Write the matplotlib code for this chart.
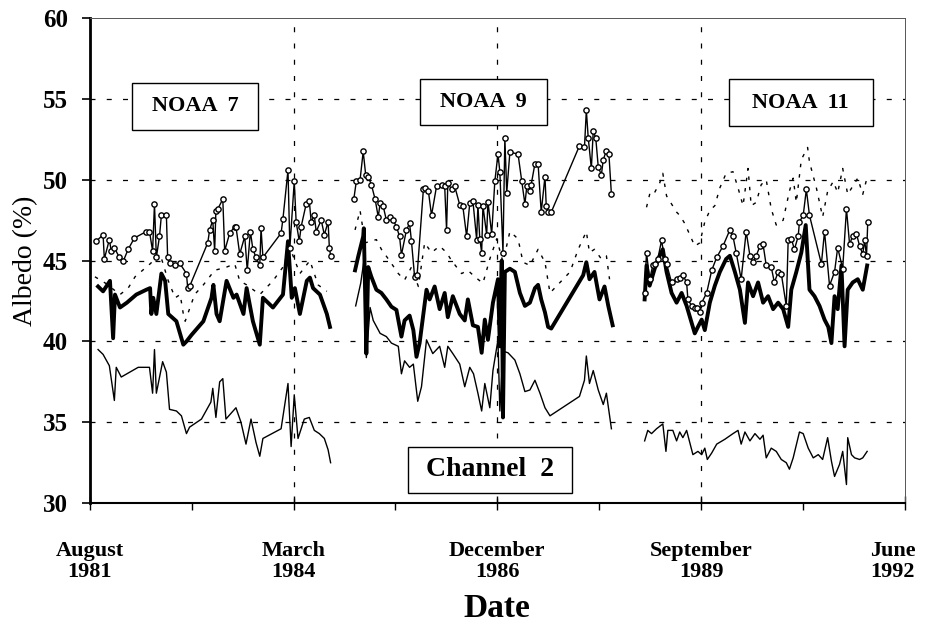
import matplotlib
matplotlib.use("Agg")
import matplotlib.pyplot as plt
import matplotlib.transforms as mtransforms
from matplotlib.patches import Rectangle

# x values: months since August 1981
# ---------------- NOAA 7 ----------------
n7_top_x = [1.0, 2.1, 2.3, 3.1, 3.4, 3.9, 4.7, 5.3, 6.1, 7.1, 9.0, 9.5, 10.0, 10.3, 10.6, 11.1, 11.4, 12.2,
            12.4, 12.7, 13.5, 14.3, 15.4, 15.6, 15.9, 18.8, 19.1, 19.6, 19.9, 20.1, 20.4, 21.2, 21.5, 22.3,
            23.1, 23.3, 23.9, 24.7, 25.1, 25.6, 26.0, 26.5, 27.1, 27.3, 27.6, 30.5, 30.8, 31.6, 31.9, 32.6,
            32.9, 33.4, 33.7, 34.5, 35.0, 35.3, 35.8, 36.1, 36.9, 37.4, 38.0, 38.2, 38.4]
n7_top_y = [46.2, 46.6, 45.1, 46.3, 45.6, 45.8, 45.2, 44.95, 45.7, 46.4, 46.8, 46.8, 45.6, 48.5, 45.2, 46.5, 47.8, 47.8,
            45.2, 44.85, 44.75, 44.85, 44.2, 43.3, 43.4, 46.1, 46.9, 47.5, 45.6, 48.1, 48.2, 48.8, 45.6, 46.7,
            47.1, 47.1, 45.4, 46.5, 44.4, 46.8, 45.7, 45.2, 44.7, 47.0, 45.2, 46.7, 47.6, 50.6, 45.8, 49.9,
            47.4, 46.2, 47.1, 48.5, 48.7, 47.4, 47.8, 46.8, 47.5, 46.6, 47.4, 45.8, 45.3]
n7_dash_x = [0.8, 2.5, 4.8, 6.1, 7.2, 9.6, 11.2, 12.5, 13.6, 14.4, 14.9, 15.2, 16.7, 18.1, 19.9, 21.8, 23.1,
             23.9, 25.0, 27.1, 29.2, 30.8, 31.9, 33.5, 35.1, 36.4, 37.8]
n7_dash_y = [44.0, 43.6, 42.9, 43.3, 44.0, 44.8, 45.4, 43.75, 42.7, 42.9, 41.7, 41.25, 42.9, 43.5, 44.4, 44.6, 44.8,
             43.75, 43.5, 42.9, 43.75, 44.6, 45.8, 44.2, 45.0, 43.5, 43.1]
n7_thick_x = [1.3, 2.1, 3.2, 3.7, 4.0, 4.8, 5.9, 7.4, 9.0, 9.6, 9.8, 10.1, 10.6, 11.4, 12.0, 12.5, 13.8, 14.9,
              15.4, 16.2, 18.1, 19.4, 19.7, 20.2, 20.7, 21.8, 22.9, 23.4, 24.5, 25.0, 26.0, 27.1, 27.6, 29.2,
              30.8, 31.6, 32.2, 32.7, 33.5, 34.6, 35.1, 35.6, 36.7, 37.8, 38.3]
n7_thick_y = [43.4, 43.1, 43.75, 40.2, 42.9, 42.1, 42.4, 42.9, 43.2, 43.3, 41.7, 42.7, 41.7, 44.2, 43.75, 41.7, 41.25, 39.8,
              40.0, 40.4, 41.25, 42.7, 43.5, 41.7, 41.25, 43.75, 42.7, 42.9, 41.7, 43.3, 41.25, 39.8, 42.7, 42.1,
              42.9, 46.2, 42.7, 43.3, 41.7, 43.75, 43.95, 43.3, 42.9, 41.7, 40.9]
n7_thin_x = [1.3, 2.1, 2.6, 3.1, 3.9, 4.2, 5.0, 7.7, 9.5, 10.0, 10.3, 10.6, 11.6, 12.2, 12.7, 13.8, 14.6, 15.4,
             15.9, 17.8, 19.3, 19.6, 20.1, 20.7, 21.2, 21.7, 23.3, 24.1, 24.9, 25.7, 26.5, 27.1, 27.6, 30.5,
             31.6, 32.1, 32.6, 33.2, 34.2, 35.0, 35.8, 36.6, 37.4, 38.0, 38.4]
n7_thin_y = [39.5, 39.2, 38.85, 38.5, 36.35, 38.4, 37.8, 38.4, 38.4, 36.8, 39.5, 36.8, 38.75, 38.1, 35.8, 35.7, 35.4, 34.3,
             34.7, 35.2, 36.25, 37.1, 35.3, 37.5, 37.7, 35.2, 35.9, 35.0, 33.65, 35.2, 33.75, 32.9, 34.0, 34.6,
             37.4, 33.5, 36.7, 34.0, 35.2, 35.3, 34.5, 34.3, 34.0, 33.3, 32.5]

# ---------------- NOAA 9 ----------------
n9_top_x = [42.1, 42.5, 43.1, 43.6, 44.0, 44.4, 44.9, 45.5, 46.0, 46.3, 46.8, 47.3, 47.8, 48.4, 48.9, 49.4, 49.7,
            50.5, 51.0, 51.3, 51.8, 52.2, 53.2, 53.4, 54.0, 54.5, 55.3, 56.1, 56.6, 56.9, 57.1, 57.7, 58.2,
            59.0, 59.5, 60.1, 60.6, 61.1, 61.7, 61.9, 62.2, 62.5, 62.7, 63.3, 63.5, 64.1, 64.6, 65.1, 65.4,
            65.9, 66.2, 66.5, 67.0, 68.3, 68.9, 69.4, 69.7, 70.2, 70.4, 71.0, 71.5, 72.0, 72.6, 72.8, 73.1,
            73.6, 78.1, 78.9, 79.2, 79.5, 80.0, 80.3, 80.7, 81.1, 81.6, 81.9, 82.4, 82.8, 83.2]
n9_top_y = [48.8, 49.9, 50.0, 51.75, 50.3, 50.2, 49.7, 48.8, 47.7, 48.55, 48.35, 47.5, 47.7, 47.5, 47.1, 46.5, 45.35,
            46.9, 47.3, 46.2, 44.0, 44.1, 49.4, 49.5, 49.3, 47.8, 49.6, 49.7, 49.6, 46.9, 49.8, 49.4, 49.6,
            48.45, 48.35, 46.5, 48.55, 48.7, 46.3, 48.45, 46.35, 45.5, 48.4, 46.6, 48.65, 46.65, 49.9, 51.6, 50.5,
            45.5, 52.6, 49.2, 51.7, 51.6, 49.9, 48.5, 49.6, 49.3, 49.7, 51.0, 51.0, 48.0, 50.2, 48.4, 48.0,
            48.0, 52.1, 52.0, 54.3, 52.6, 50.7, 53.0, 52.6, 50.8, 50.3, 51.25, 51.8, 51.6, 49.1]
n9_dash_x = [42.3, 43.1, 43.9, 45.7, 46.5, 47.8, 49.2, 50.2, 51.3, 52.4, 53.4, 54.5, 55.8, 56.9, 57.7, 59.3, 60.3,
             61.4, 62.7, 63.8, 64.9, 65.9, 67.0, 68.3, 69.1, 70.2, 71.5, 72.6, 73.4, 76.6, 77.9, 79.2, 79.7,
             80.5, 81.6, 82.4, 82.9]
n9_dash_y = [46.9, 48.1, 46.1, 46.3, 45.7, 45.0, 44.2, 43.8, 44.6, 43.4, 46.1, 45.5, 45.9, 45.5, 45.0, 44.2, 44.4,
             44.0, 43.6, 45.1, 46.35, 44.9, 46.8, 46.35, 44.9, 44.7, 45.7, 44.9, 43.0, 44.3, 45.7, 46.8, 45.5,
             45.7, 45.1, 45.3, 43.85]
n9_thick_x = [42.3, 42.8, 43.6, 43.7, 44.1, 44.4, 44.9, 45.7, 46.5, 47.3, 48.1, 48.9, 49.7, 50.2, 51.0, 51.6, 52.1,
              52.6, 53.7, 54.2, 55.0, 55.8, 56.6, 57.1, 57.9, 59.0, 59.8, 60.3, 61.1, 61.9, 62.5, 63.0, 63.5,
              64.3, 65.1, 65.4, 65.7, 65.9, 66.2, 67.0, 67.8, 68.6, 69.4, 70.2, 71.0, 71.5, 72.0, 72.6, 73.1,
              73.6, 78.7, 79.2, 79.7, 80.5, 81.3, 82.1, 82.7, 83.4]
n9_thick_y = [44.4, 45.25, 46.5, 47.0, 39.25, 44.6, 44.0, 43.2, 43.0, 42.6, 42.15, 41.95, 40.3, 41.3, 41.6, 40.7, 39.05,
              39.9, 43.2, 42.6, 43.4, 42.0, 43.0, 41.5, 42.8, 41.7, 41.3, 42.6, 41.0, 40.9, 39.3, 41.35, 40.1,
              42.4, 43.85, 39.7, 45.0, 35.3, 44.3, 44.5, 44.3, 43.0, 42.2, 42.4, 43.3, 43.5, 42.6, 41.8, 40.9,
              40.8, 44.1, 44.9, 43.85, 44.3, 42.6, 43.4, 42.2, 41.0]
n9_thin_x = [42.4, 43.2, 43.9, 44.1, 44.7, 45.2, 46.3, 47.3, 48.1, 49.2, 49.7, 50.2, 51.0, 51.6, 52.3, 52.9, 53.7,
             54.7, 55.8, 56.6, 57.1, 57.9, 59.0, 59.8, 60.6, 61.2, 61.9, 62.5, 63.0, 63.8, 64.3, 65.1, 65.4,
             65.9, 66.7, 67.8, 68.6, 69.4, 70.2, 71.0, 71.8, 72.6, 73.4, 78.1, 78.9, 79.2, 79.7, 80.3, 81.1,
             81.9, 82.4, 83.2]
n9_thin_y = [42.2, 43.6, 45.5, 39.0, 42.1, 41.3, 40.5, 40.3, 39.9, 39.7, 38.0, 38.8, 38.4, 38.6, 36.3, 37.2, 40.1,
             39.25, 39.7, 38.4, 39.7, 39.25, 38.6, 37.2, 38.4, 38.0, 36.8, 35.7, 37.4, 35.9, 38.2, 40.1, 35.7,
             39.4, 39.3, 38.85, 38.0, 36.9, 37.0, 37.6, 36.8, 35.9, 35.4, 36.6, 37.6, 39.1, 37.4, 38.2, 37.0,
             36.1, 36.8, 34.6]

# ---------------- NOAA 11 ----------------
n11_top_x = [88.5, 88.8, 89.3, 89.8, 90.1, 90.6, 91.2, 91.7, 92.0, 92.8, 93.6, 94.1, 94.6, 95.2, 95.4, 96.0, 96.5,
             96.8, 97.3, 97.6, 98.4, 99.2, 100.0, 101.0, 102.1, 102.6, 103.1, 103.9, 104.7, 105.3, 105.8, 106.3,
             106.9, 107.4, 107.9, 108.7, 109.2, 109.8, 110.3, 111.1, 111.4, 111.9, 112.4, 113.0, 113.2, 113.8,
             114.3, 114.8, 116.7, 117.2, 118.0, 118.8, 119.3, 120.1, 120.7, 121.2, 121.7, 122.3, 122.8, 123.3,
             123.6, 123.9, 124.1]
n11_top_y = [43.0, 45.5, 43.85, 44.7, 44.8, 45.1, 46.25, 45.1, 44.8, 43.65, 43.85, 43.95, 44.1, 43.65, 42.6, 42.2, 42.1,
             42.1, 41.8, 42.4, 43.0, 44.4, 45.2, 45.9, 46.9, 46.5, 45.5, 43.85, 46.8, 45.3, 44.9, 45.3,
             45.9, 46.0, 44.7, 44.6, 43.65, 44.3, 44.2, 42.2, 46.25, 46.35, 45.7, 46.5, 47.4, 47.8,
             49.4, 47.8, 44.8, 46.8, 43.45, 44.3, 45.8, 44.5, 48.2, 46.0, 46.55, 46.65, 45.9, 45.4,
             46.25, 45.3, 47.4]
n11_dash_x = [88.8, 89.3, 89.8, 90.9, 91.4, 92.0, 92.8, 93.6, 94.1, 94.9, 95.7, 96.5, 97.3, 98.1, 98.9, 99.7, 100.5,
              101.5, 102.6, 103.4, 104.2, 105.0, 105.5, 106.3, 107.1, 107.9, 108.7, 109.5, 110.6, 111.6, 112.2,
              112.7, 113.5, 114.5, 114.8, 115.9, 116.9, 117.7, 118.6, 119.3, 120.1, 120.9, 121.7, 122.5, 123.3,
              123.9]
n11_dash_y = [48.3, 49.1, 49.0, 49.8, 50.4, 49.0, 48.5, 48.0, 47.8, 47.3, 46.6, 45.9, 46.1, 47.4, 48.1, 48.4, 49.5,
              50.4, 50.5, 49.5, 48.4, 50.7, 48.4, 48.6, 49.7, 50.0, 48.2, 47.2, 47.5, 49.3, 50.1,
              48.6, 51.25, 52.0, 51.1, 49.5, 47.7, 49.3, 49.9, 49.2, 50.7, 49.1, 49.6, 50.1, 49.1,
              50.0]
n11_thick_x = [88.5, 88.8, 89.3, 90.1, 90.9, 91.4, 92.0, 92.8, 93.6, 94.4, 95.2, 96.0, 96.5, 97.0, 97.6, 98.1, 98.9,
               99.7, 100.5, 101.5, 102.1, 102.9, 103.7, 104.5, 105.0, 105.8, 106.6, 107.4, 108.2, 109.0, 109.8,
               110.6, 111.4, 111.9, 112.7, 113.5, 114.2, 114.8, 115.6, 116.4, 117.2, 117.8, 118.3, 118.8, 119.3,
               119.9, 120.4, 120.9, 121.7, 122.5, 123.3, 124.0]
n11_thick_y = [42.6, 44.7, 43.45, 44.5, 45.3, 45.7, 44.3, 43.0, 42.4, 43.0, 42.2, 41.15, 40.5, 40.9, 41.35, 40.7, 42.4,
               43.45, 44.3, 45.1, 45.3, 44.3, 43.2, 41.15, 43.65, 42.8, 43.65, 42.4, 42.8, 42.0, 42.4,
               42.0, 40.9, 43.2, 44.3, 45.5, 47.2, 43.2, 42.8, 42.2, 41.35, 40.9, 39.9, 42.8, 42.0,
               44.7, 39.7, 43.2, 43.65, 43.85, 43.2, 44.7]
n11_thin_x = [88.5, 89.0, 89.6, 90.4, 91.4, 91.9, 92.2, 93.0, 93.6, 94.1, 94.6, 95.2, 95.7, 96.2, 97.0, 97.6, 98.1,
              98.5, 99.2, 100.0, 101.3, 102.6, 103.4, 103.9, 104.5, 105.3, 106.1, 106.9, 107.4, 107.9, 108.7,
              109.5, 110.3, 111.1, 111.6, 112.2, 113.2, 113.8, 114.6, 115.4, 116.2, 116.9, 117.7, 118.3, 118.8,
              119.6, 120.1, 120.7, 120.9, 121.5, 122.0, 122.8, 123.3, 124.0]
n11_thin_y = [33.85, 34.5, 34.3, 34.6, 34.9, 33.2, 34.5, 34.5, 33.85, 34.4, 34.05, 34.5, 33.75, 33.0, 33.2, 33.0, 33.4,
              32.7, 33.1, 33.65, 33.95, 34.3, 34.5, 33.65, 34.4, 33.85, 34.3, 33.95, 34.2, 32.8, 33.4,
              33.2, 32.7, 32.5, 32.1, 32.8, 34.4, 34.3, 33.4, 32.8, 33.0, 32.7, 34.05, 32.6, 31.65,
              32.4, 33.2, 31.15, 34.05, 33.0, 32.8, 32.7, 32.8, 33.2]

tick_pos = [0, 32.5, 65, 97.5, 130]
tick_labels = ["August\n1981", "March\n1984", "December\n1986", "September\n1989", "June\n1992"]
y_ticks = [30, 35, 40, 45, 50, 55, 60]
box_labels = ["NOAA  7", "NOAA  9", "NOAA  11"]
channel_label = "Channel  2"

SERIF = ["Liberation Serif", "DejaVu Serif"]
plt.rcParams['font.family'] = SERIF

fig = plt.figure(figsize=(9.27, 6.25), dpi=100)
ax = fig.add_axes([0.097, 0.195, 0.879, 0.776])
ax.set_xlim(0, 130)
ax.set_ylim(30, 60)

# grid
dash = (0, (4, 9))
for yv in [35, 40, 45, 50, 55]:
    ax.axhline(yv, color='black', lw=0.9, ls=dash, zorder=0)
for xv in tick_pos[1:4]:
    ax.axvline(xv, color='black', lw=0.9, ls=dash, zorder=0)

sets = [
    (n7_top_x, n7_top_y, n7_dash_x, n7_dash_y, n7_thick_x, n7_thick_y, n7_thin_x, n7_thin_y),
    (n9_top_x, n9_top_y, n9_dash_x, n9_dash_y, n9_thick_x, n9_thick_y, n9_thin_x, n9_thin_y),
    (n11_top_x, n11_top_y, n11_dash_x, n11_dash_y, n11_thick_x, n11_thick_y, n11_thin_x, n11_thin_y),
]
for tx, ty, dx, dy, kx, ky, nx, ny in sets:
    ax.plot(nx, ny, color='black', lw=1.0, zorder=2)
    ax.plot(dx, dy, color='black', lw=1.0, ls=(0, (2.5, 5)), zorder=2)
    ax.plot(kx, ky, color='black', lw=2.8, zorder=3)
    ax.plot(tx, ty, color='black', lw=1.0, marker='o', ms=3.8, mfc='white', mec='black', mew=1.0, zorder=4)

# label boxes (data coordinates)
boxes = [(6.7, 53.1, 20.1, 2.9), (52.6, 53.4, 20.4, 2.85), (101.9, 53.3, 23.0, 2.95)]
for (bx, by, bw, bh), lab in zip(boxes, box_labels):
    ax.add_patch(Rectangle((bx, by), bw, bh, facecolor='white', edgecolor='black', lw=1.0, zorder=6))
    ax.text(bx + bw / 2, by + bh / 2, lab, ha='center', va='center', fontsize=16, fontweight='bold', zorder=7)
ax.add_patch(Rectangle((50.7, 30.6), 26.2, 2.9, facecolor='white', edgecolor='black', lw=1.0, zorder=6))
ax.text(63.8, 32.05, channel_label, ha='center', va='center', fontsize=20, fontweight='bold', zorder=7)

# axes styling
for s in ['top', 'right']:
    ax.spines[s].set_linewidth(0.7)
    ax.spines[s].set_color('#555555')
ax.spines['left'].set_linewidth(2.0)
ax.spines['bottom'].set_linewidth(1.5)

ax.set_yticks(y_ticks)
ax.set_yticklabels([str(v) for v in y_ticks], fontsize=18, fontweight='bold')
ax.tick_params(axis='y', direction='out', length=6, width=1.2, pad=10)
ax.set_xticks(tick_pos)
ax.set_xticklabels(tick_labels, fontsize=16, fontweight='bold', linespacing=1.1)
ax.set_xticks([16.25, 48.75, 81.25, 113.75], minor=True)
ax.tick_params(axis='x', which='major', direction='inout', length=10, width=1.0, pad=22)
ax.tick_params(axis='x', which='minor', direction='out', length=5, width=1.0)

# shift the last label left so it stays inside the figure
last = ax.get_xticklabels()[-1]
last.set_transform(last.get_transform() + mtransforms.ScaledTranslation(-0.12, 0, fig.dpi_scale_trans))

ax.set_ylabel("Albedo (%)", fontsize=20)
ax.yaxis.set_label_coords(-0.063, 0.5)
ax.set_xlabel("Date", fontsize=24, fontweight='bold', labelpad=8)

fig.savefig("out.png", dpi=100)
